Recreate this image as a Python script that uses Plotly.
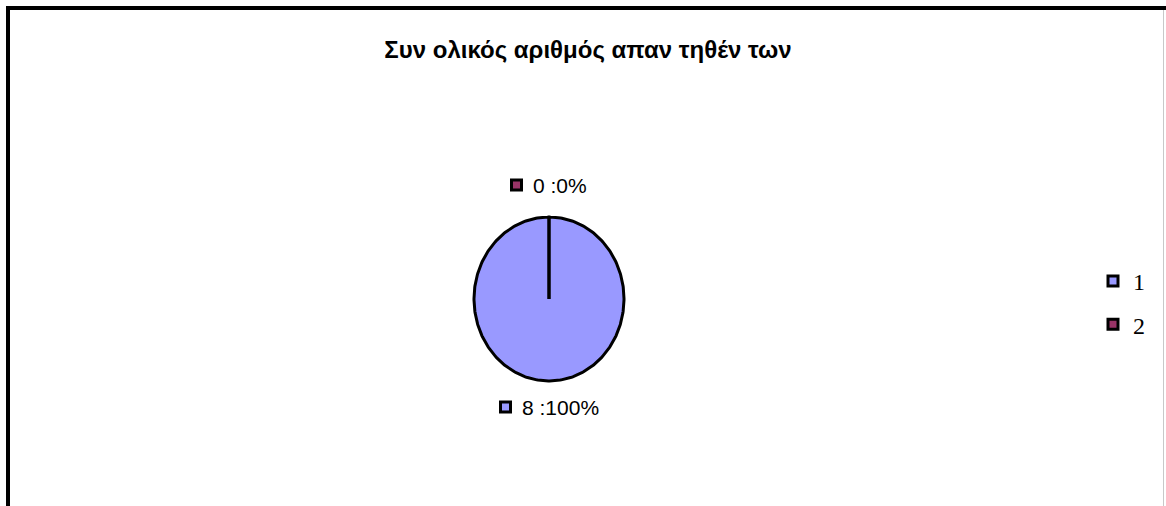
import numpy as np
import plotly.graph_objects as go

# Chart data
categories = ["1", "2"]
values = [8, 0]
colors = ["#9999FF", "#993366"]
title_text = "Συν ολικός αριθμός απαν τηθέν των"

W, H = 1166, 506
cx, cy = 549, 299      # pie centre (pixel space)
rx, ry = 75, 82        # pie radii (slightly elliptical)
label_gap = 29         # distance of data labels beyond the rim
char_w = 11            # approximate label character width, px

total = sum(values)
fractions = [v / total for v in values]

fig = go.Figure()

# Slices: angles measured clockwise from 12 o'clock
start = 0.0
label_info = []
for cat, v, frac, col in zip(categories, values, fractions, colors):
    end = start + frac * 2 * np.pi
    n = max(2, int(frac * 360) + 2)
    theta = np.linspace(start, end, n)
    xs = np.concatenate([[cx], cx + rx * np.sin(theta), [cx]])
    ys = np.concatenate([[cy], cy - ry * np.cos(theta), [cy]])
    fig.add_trace(go.Scatter(
        x=xs, y=ys, mode="lines", fill="toself", fillcolor=col,
        line=dict(color="black", width=3), showlegend=False, hoverinfo="skip",
    ))
    mid = (start + end) / 2
    label_info.append((v, frac, col, mid))
    start = end

key_marker = lambda col: dict(symbol="square", size=10, color=col,
                              line=dict(color="black", width=3))

# Data labels with legend keys, placed outward along each slice's mid-angle
for v, frac, col, mid in label_info:
    txt = f"{v} :{frac * 100:.0f}%"
    lx = cx + (rx + label_gap) * np.sin(mid)
    ly = cy - (ry + label_gap) * np.cos(mid)
    group_w = 13 + 10 + char_w * len(txt)
    left = lx - group_w / 2
    fig.add_trace(go.Scatter(
        x=[left + 6.5], y=[ly - 3], mode="markers", marker=key_marker(col),
        showlegend=False, hoverinfo="skip", cliponaxis=False,
    ))
    fig.add_trace(go.Scatter(
        x=[left + 23], y=[ly], mode="text", text=[txt],
        textposition="middle right",
        textfont=dict(family="Liberation Sans, Arial", size=21, color="black"),
        showlegend=False, hoverinfo="skip", cliponaxis=False,
    ))

# Legend entries
for cat, col in zip(categories, colors):
    fig.add_trace(go.Scatter(
        x=[None], y=[None], mode="markers", name=cat,
        marker=key_marker(col), legendgroup=cat,
    ))

# Chart frame
frame = [
    dict(x0=6, x1=W, y0=8, y1=8, color="black", width=4),
    dict(x0=8, x1=8, y0=6, y1=H, color="black", width=4),
    dict(x0=1163.5, x1=1163.5, y0=10, y1=H, color="#C8C8C8", width=1),
]
for f in frame:
    fig.add_shape(type="line", xref="x", yref="y", x0=f["x0"], x1=f["x1"],
                  y0=f["y0"], y1=f["y1"], line=dict(color=f["color"], width=f["width"]),
                  layer="above")

fig.update_layout(
    width=W, height=H,
    margin=dict(l=0, r=0, t=0, b=0),
    paper_bgcolor="white", plot_bgcolor="white",
    title=dict(text=f"<b>{title_text}</b>", x=588 / W, y=1 - 50 / H,
               xanchor="center", yanchor="middle",
               font=dict(family="Liberation Sans, Arial", size=24, color="black")),
    xaxis=dict(range=[0, W], visible=False, domain=[0, 1], fixedrange=True),
    yaxis=dict(range=[H, 0], visible=False, domain=[0, 1], fixedrange=True),
    legend=dict(x=1093 / W, y=1 - 259 / H, xanchor="left", yanchor="top",
                font=dict(family="Liberation Serif, Times New Roman", size=24, color="black"),
                bgcolor="rgba(0,0,0,0)", tracegroupgap=9, itemwidth=30),
    showlegend=True,
)

fig.write_html("out.html")
